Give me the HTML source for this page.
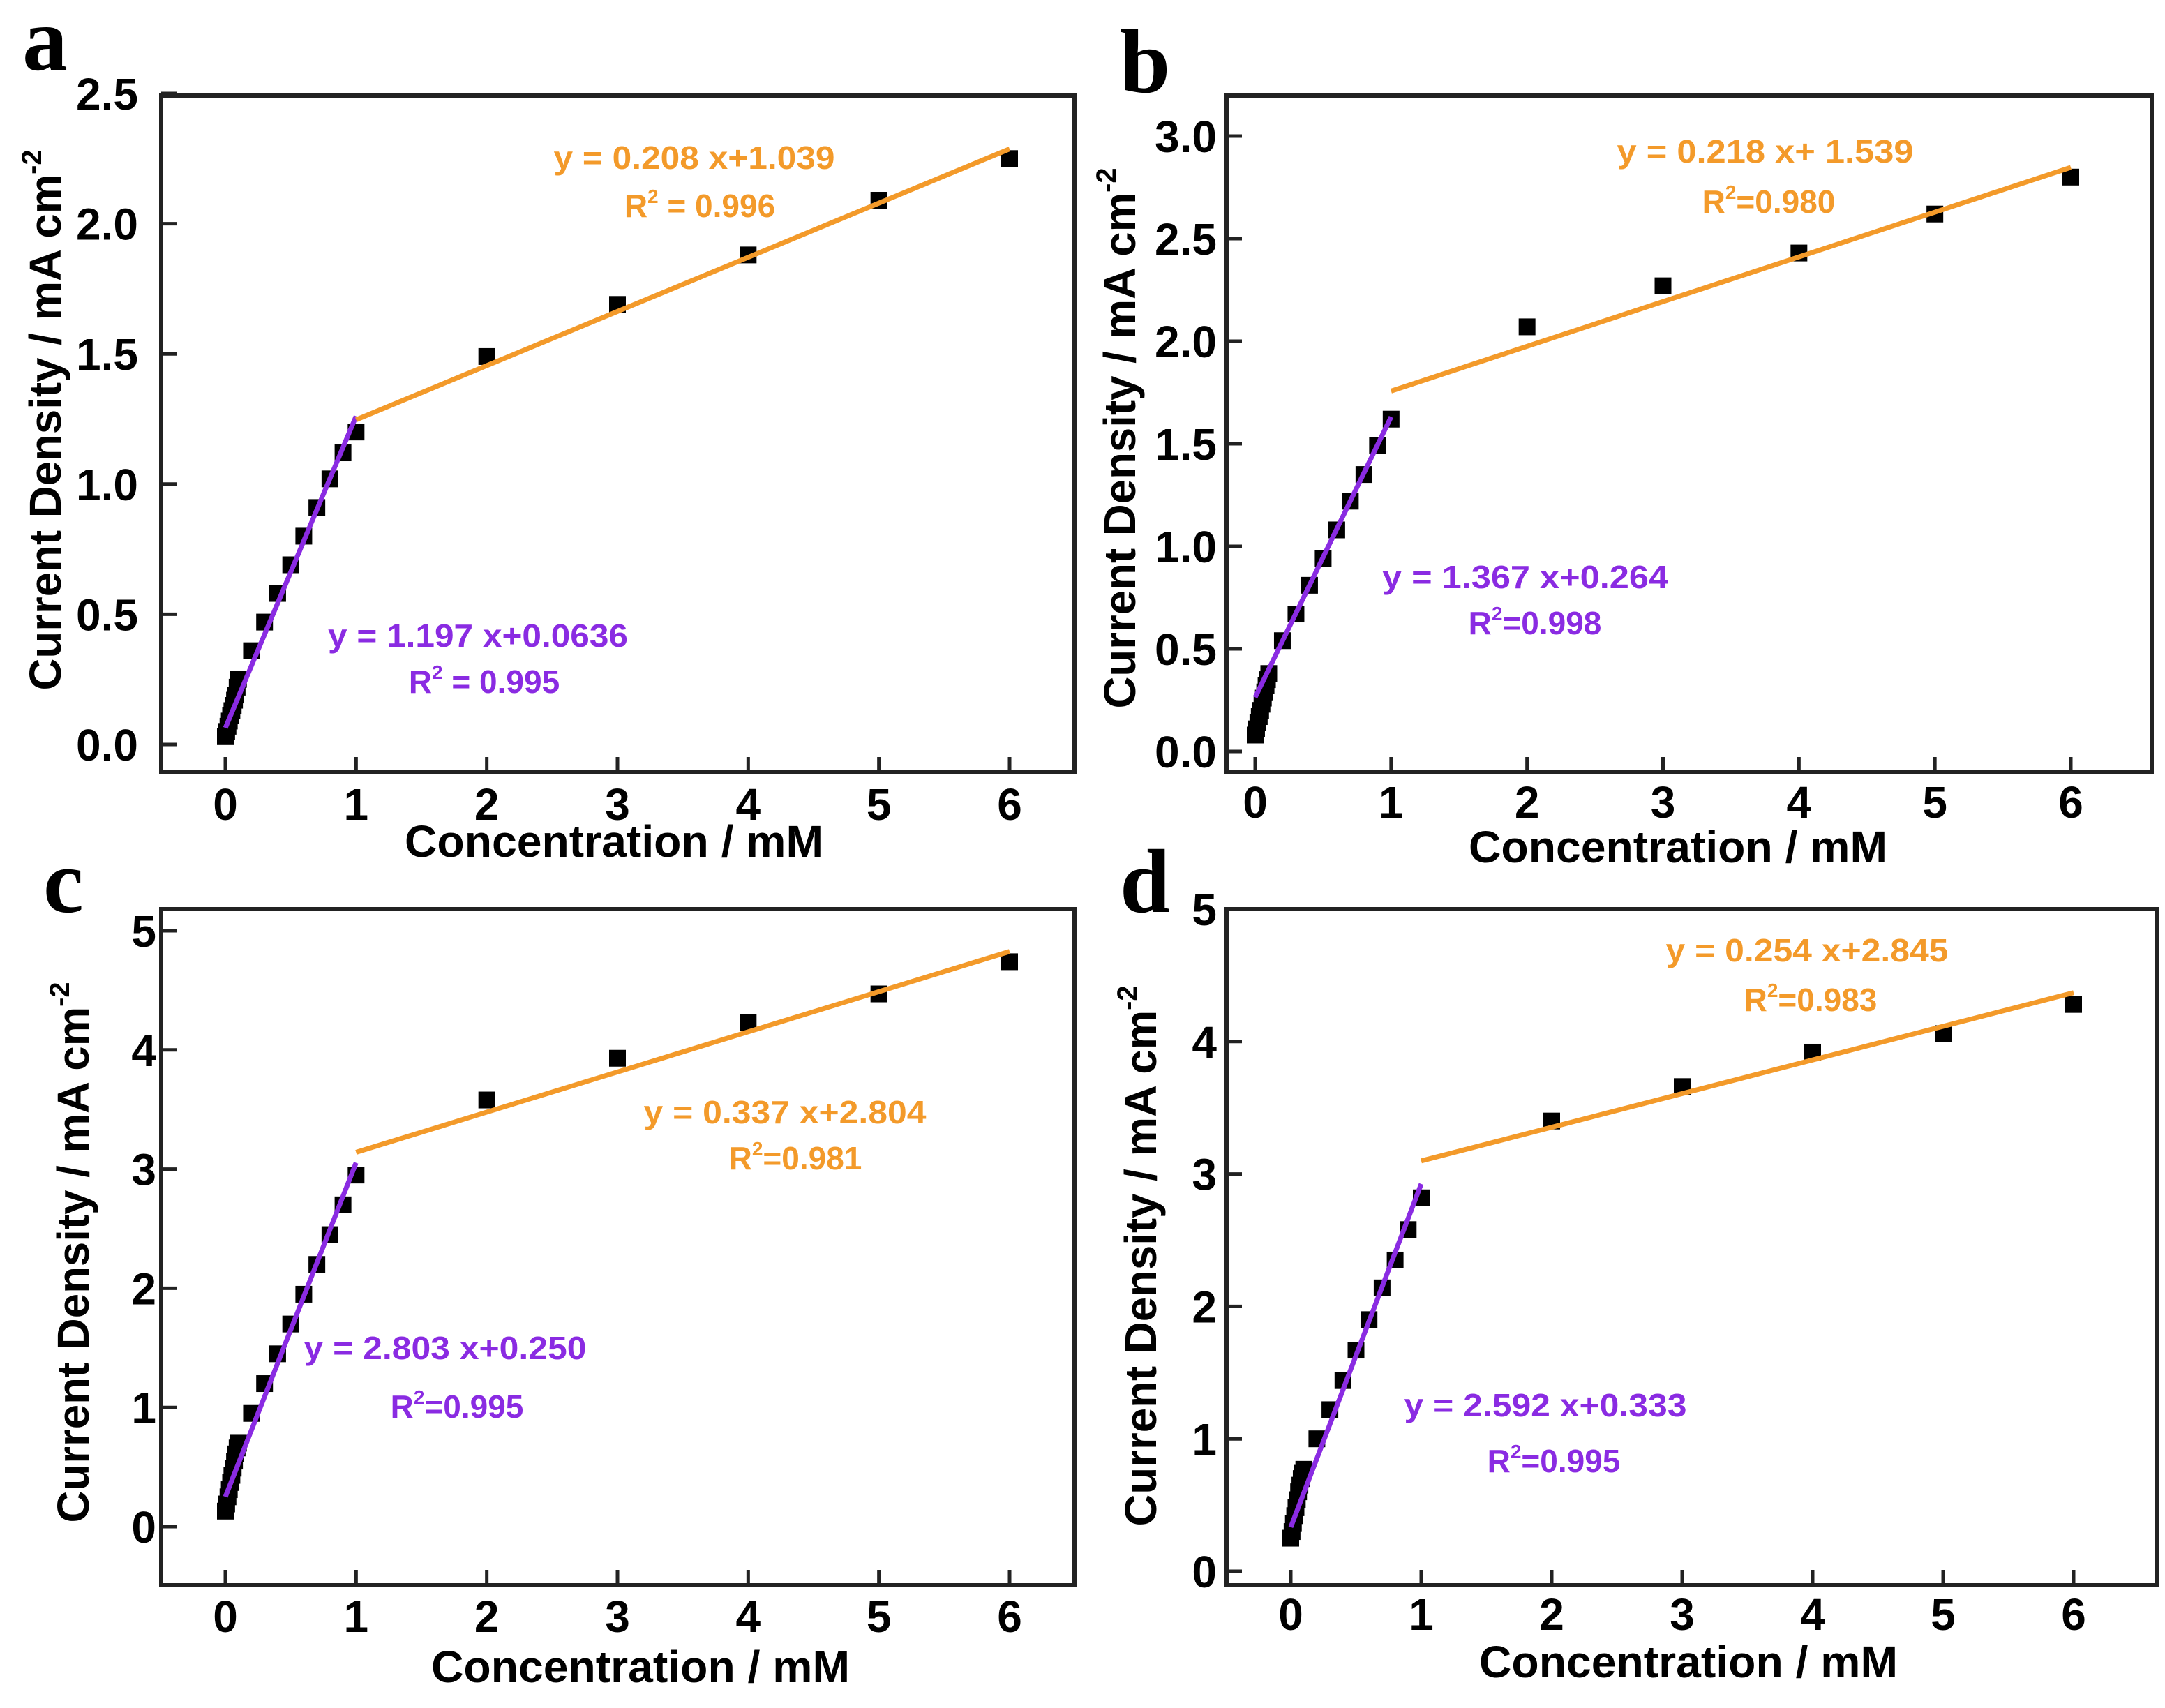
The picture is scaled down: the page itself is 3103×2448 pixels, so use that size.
<!DOCTYPE html>
<html><head><meta charset="utf-8"><style>
html,body{margin:0;padding:0;background:#fff}
svg{display:block}
text{font-family:"Liberation Sans",Arial,sans-serif;font-weight:bold}
</style></head><body>
<svg id="fig" width="3103" height="2448" viewBox="0 0 3103 2448" xmlns="http://www.w3.org/2000/svg"></svg>
<script>
// x values shared by all panels (mM)
const concX = [0,0.01,0.02,0.03,0.04,0.05,0.06,0.07,0.08,0.09,0.1,0.2,0.3,0.4,0.5,0.6,0.7,0.8,0.9,1,2,3,4,5,6];
const xTicks = [0,1,2,3,4,5,6];
// panel a
const yA = [0.03,0.05,0.07,0.09,0.11,0.13,0.15,0.17,0.19,0.22,0.25,0.36,0.47,0.58,0.69,0.80,0.91,1.02,1.12,1.20,1.49,1.69,1.88,2.09,2.25];
const fitA = [1.197,0.0636,0.208,1.039];
const yTicksA = ["0.0","0.5","1.0","1.5","2.0","2.5"];
// panel b
const yB = [0.08,0.11,0.14,0.17,0.20,0.23,0.26,0.29,0.32,0.35,0.38,0.54,0.67,0.81,0.94,1.08,1.22,1.35,1.49,1.62,2.07,2.27,2.43,2.62,2.80];
const fitB = [1.367,0.264,0.218,1.539];
const yTicksB = ["0.0","0.5","1.0","1.5","2.0","2.5","3.0"];
// panel c
const yC = [0.13,0.19,0.25,0.31,0.37,0.43,0.49,0.55,0.61,0.66,0.70,0.95,1.20,1.45,1.70,1.95,2.20,2.45,2.70,2.95,3.58,3.93,4.23,4.47,4.74];
const fitC = [2.803,0.250,0.337,2.804];
const yTicksC = ["0","1","2","3","4","5"];
// panel d
const yD = [0.25,0.30,0.36,0.42,0.48,0.54,0.60,0.65,0.70,0.74,0.77,1.00,1.22,1.44,1.67,1.90,2.14,2.35,2.58,2.82,3.40,3.66,3.92,4.06,4.28];
const fitD = [2.592,0.333,0.254,2.845];
const yTicksD = ["0","1","2","3","4","5"];

const NS="http://www.w3.org/2000/svg";
const svg=document.getElementById('fig');
function mk(tag,attrs,parent,txt){const e=document.createElementNS(NS,tag);for(const k in attrs)e.setAttribute(k,attrs[k]);if(txt!==undefined)e.textContent=txt;(parent||svg).appendChild(e);return e;}

const panels=[
 {id:'a',ys:yA,fit:fitA,yt:yTicksA,box:[231,137,1540,1107],x0:323,x6:1447,yv0:0,yp0:1067,yv1:2.5,yp1:134,
  letter:[32,100],ytitle:[65,602],xtitle:[880,1228],xlab:1175,ylabR:198,
  eqO:[995,226,"y = 0.208 x+1.039",403],rO:[1003,295,"0.996",true],eqP:[685,911,"y = 1.197 x+0.0636",430],rP:[694,977,"0.995",true]},
 {id:'b',ys:yB,fit:fitB,yt:yTicksB,box:[1758,137,3084,1107],x0:1799,x6:2968,yv0:0,yp0:1077,yv1:3,yp1:195,
  letter:[1605,132],ytitle:[1605,628],xtitle:[2405,1236],xlab:1172,ylabR:1744,
  eqO:[2530,217,"y = 0.218 x+ 1.539",425],rO:[2535,289,"0.980",false],eqP:[2186,827,"y = 1.367 x+0.264",410],rP:[2200,893,"0.998",false]},
 {id:'c',ys:yC,fit:fitC,yt:yTicksC,box:[231,1303,1540,2272],x0:323,x6:1447,yv0:0,yp0:2188,yv1:5,yp1:1334,
  letter:[62,1307],ytitle:[105,1795],xtitle:[918,2411],xlab:2339,ylabR:224,
  eqO:[1125,1594,"y = 0.337 x+2.804",405],rO:[1140,1660,"0.981",false],eqP:[638,1932,"y = 2.803 x+0.250",405],rP:[655,2016,"0.995",false]},
 {id:'d',ys:yD,fit:fitD,yt:yTicksD,box:[1758,1303,3092,2272],x0:1850,x6:2972,yv0:0,yp0:2252,yv1:5,yp1:1303,
  letter:[1605,1307],ytitle:[1635,1800],xtitle:[2420,2404],xlab:2336,ylabR:1744,
  eqO:[2590,1362,"y = 0.254 x+2.845",405],rO:[2595,1433,"0.983",false],eqP:[2215,2014,"y = 2.592 x+0.333",405],rP:[2227,2094,"0.995",false]}
];
const ORANGE="#f39a2a", PURPLE="#8a2be2";

panels.forEach(p=>{
  const g=mk('g',{});
  
  
  const sx=v=>p.x0+(p.x6-p.x0)*v/6;
  const sy=v=>p.yp0+(p.yp1-p.yp0)*(v-p.yv0)/(p.yv1-p.yv0);
  const [L,T,R,B]=p.box;
  const lt=mk('text',{x:p.letter[0],y:p.letter[1],'font-size':130,style:'font-family:"Liberation Serif",serif;font-weight:bold'},g,p.id);
  
  
  const fr=mk('rect',{x:L,y:T,width:R-L,height:B-T,fill:'none',stroke:'#222',"stroke-width":6},g);
  
  
  xTicks.forEach(v=>{
    const tk=mk('line',{x1:sx(v),x2:sx(v),y1:B,y2:B-22,stroke:'#222','stroke-width':5},g);
    
    
    const tl=mk('text',{x:sx(v),y:p.xlab,'font-size':64,'text-anchor':'middle'},g,String(v));
    
    
  });
  p.yt.forEach(s=>{
    const v=parseFloat(s);
    const tk=mk('line',{x1:L,x2:L+22,y1:sy(v),y2:sy(v),stroke:'#222','stroke-width':5},g);
    
    
    const tl=mk('text',{x:p.ylabR,y:sy(v)+23,'font-size':64,'text-anchor':'end'},g,s);
    
    
  });
  const xt=mk('text',{x:p.xtitle[0],y:p.xtitle[1],'font-size':64,'text-anchor':'middle',textLength:600,lengthAdjust:'spacingAndGlyphs'},g,'Concentration / mM');
  
  
  const yt=mk('text',{x:0,y:0,'font-size':64,'text-anchor':'middle',textLength:775,lengthAdjust:'spacingAndGlyphs',transform:`translate(${p.ytitle[0]+22},${p.ytitle[1]}) rotate(-90)`},g);
  
  
  yt.appendChild(document.createTextNode('Current Density / mA cm'));
  mk('tspan',{'font-size':40,dy:-28},yt,'-2');
  concX.forEach((x,i)=>{
    const m=mk('rect',{x:sx(x)-12,y:sy(p.ys[i])-12,width:24,height:24,fill:'#000'},g);
    
    
  });
  const lp=mk('line',{x1:sx(0),y1:sy(p.fit[1]),x2:sx(1),y2:sy(p.fit[0]+p.fit[1]),stroke:PURPLE,'stroke-width':7},g);
  
  
  const lo=mk('line',{x1:sx(1),y1:sy(p.fit[2]+p.fit[3]),x2:sx(6),y2:sy(p.fit[2]*6+p.fit[3]),stroke:ORANGE,'stroke-width':7},g);
  
  
  function eq(spec,color,name){
    const t=mk('text',{x:spec[0],y:spec[1]+16,'font-size':46,'text-anchor':'middle',fill:color,textLength:spec[3],lengthAdjust:'spacingAndGlyphs'},g,spec[2]);
    
    
  }
  function r2(spec,color,name){
    const t=mk('text',{x:spec[0],y:spec[1]+16,'font-size':46,'text-anchor':'middle',fill:color},g);
    
    
    t.appendChild(document.createTextNode('R'));
    mk('tspan',{'font-size':28,dy:-20},t,'2');
    mk('tspan',{dy:20},t,(spec[3]?' = ':'=')+spec[2]);
  }
  eq(p.eqO,ORANGE,'high-range-equation');
  r2(p.rO,ORANGE,'high-range-r-squared');
  eq(p.eqP,PURPLE,'low-range-equation');
  r2(p.rP,PURPLE,'low-range-r-squared');
});
</script>
</body></html>
